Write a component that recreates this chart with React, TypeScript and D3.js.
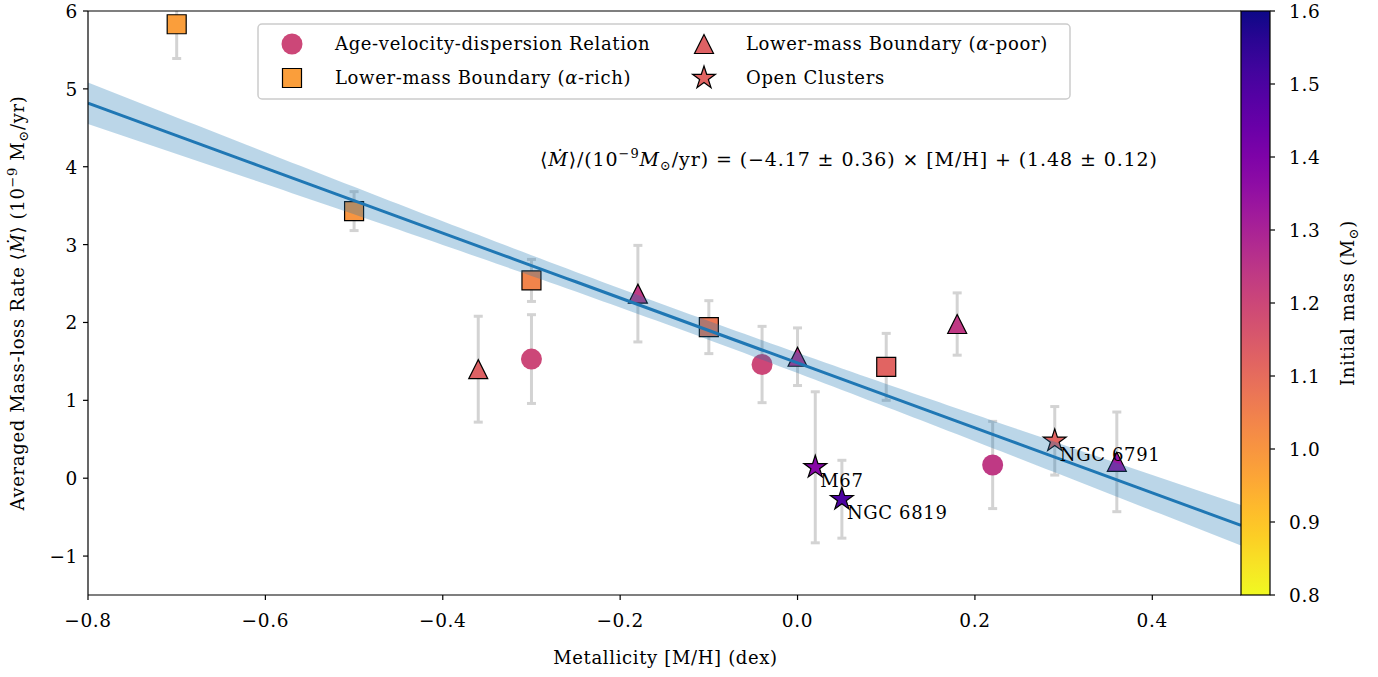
import React from 'react';
import * as d3 from 'd3';

const W = 1378, H = 677;
const PL = 88, PR = 1241, PT = 11, PB = 595;
const CBL = 1241, CBR = 1270;

const xTicks = [-0.8, -0.6, -0.4, -0.2, 0.0, 0.2, 0.4];
const yTicks = [-1, 0, 1, 2, 3, 4, 5, 6];
const cbTicks = [0.8, 0.9, 1.0, 1.1, 1.2, 1.3, 1.4, 1.5, 1.6];

// Age-velocity-dispersion relation
const avdMH = [-0.30, -0.04, 0.22];
const avdRate = [1.53, 1.46, 0.17];
const avdErr = [0.57, 0.49, 0.56];
const avdMass = [1.20, 1.20, 1.24];

// Lower-mass boundary (alpha-rich)
const richMH = [-0.70, -0.50, -0.30, -0.10, 0.10];
const richRate = [5.83, 3.43, 2.54, 1.94, 1.43];
const richErr = [0.44, 0.25, 0.27, 0.34, 0.43];
const richMass = [0.98, 1.00, 1.04, 1.07, 1.12];

// Lower-mass boundary (alpha-poor)
const poorMH = [-0.36, -0.18, 0.00, 0.18, 0.36];
const poorRate = [1.40, 2.37, 1.56, 1.98, 0.21];
const poorErr = [0.68, 0.62, 0.37, 0.40, 0.64];
const poorMass = [1.13, 1.24, 1.26, 1.24, 1.34];

// Open clusters
const ocNames = ['NGC 6791', 'M67', 'NGC 6819'];
const ocMH = [0.29, 0.02, 0.05];
const ocRate = [0.48, 0.14, -0.27];
const ocErr = [0.44, 0.97, 0.50];
const ocMass = [1.12, 1.38, 1.50];

// Linear fit
const fitSlope = -4.17;
const fitIntercept = 1.48;
const fitSlopeErr = 0.36;
const fitIntErr = 0.12;
const fitPivot = -0.14;

const FONT = 'DejaVu Serif';
const LS = 0.65;

const x = d3.scaleLinear().domain([-0.8, 0.5]).range([PL, PR]);
const y = d3.scaleLinear().domain([-1.5, 6]).range([PB, PT]);
const cb = d3.scaleLinear().domain([0.8, 1.6]).range([PB, PT]);
const color = (m: number) => d3.interpolatePlasma(1 - (m - 0.8) / 0.8);

const fmt = (v: number, d: number) => (v < 0 ? '\u2212' : '') + Math.abs(v).toFixed(d);

function starPath(r: number) {
  const inner = r * 0.381966;
  const pts: string[] = [];
  for (let i = 0; i < 10; i++) {
    const a = -Math.PI / 2 + (i * Math.PI) / 5;
    const rr = i % 2 ? inner : r;
    pts.push(`${(rr * Math.cos(a)).toFixed(2)},${(rr * Math.sin(a)).toFixed(2)}`);
  }
  return 'M' + pts.join('L') + 'Z';
}
const triPath = (r: number) => `M0,${-r}L${-r},${r}L${r},${r}Z`;
const sqPath = (s: number) => `M${-s / 2},${-s / 2}h${s}v${s}h${-s}Z`;

type Shape = 'circle' | 'square' | 'tri' | 'star';
function Marker({ shape, cx, cy, fill }: { shape: Shape; cx: number; cy: number; fill: string }) {
  if (shape === 'circle') return <circle cx={cx} cy={cy} r={10.5} fill={fill} />;
  const d = shape === 'square' ? sqPath(19) : shape === 'tri' ? triPath(9.5) : starPath(12);
  return <path d={d} transform={`translate(${cx},${cy})`} fill={fill} stroke="#000" strokeWidth={1.2} strokeLinejoin="miter" />;
}

function ErrBar({ mh, v, e }: { mh: number; v: number; e: number }) {
  const px = x(mh);
  const y0 = y(v - e), y1 = y(v + e);
  return (
    <g stroke="#d3d3d3" strokeWidth={3}>
      <line x1={px} x2={px} y1={y0} y2={y1} />
      <line x1={px - 4.5} x2={px + 4.5} y1={y0} y2={y0} />
      <line x1={px - 4.5} x2={px + 4.5} y1={y1} y2={y1} />
    </g>
  );
}

const series: { shape: Shape; mh: number[]; v: number[]; e: number[]; m: number[]; label: string }[] = [
  { shape: 'circle', mh: avdMH, v: avdRate, e: avdErr, m: avdMass, label: 'avd' },
  { shape: 'square', mh: richMH, v: richRate, e: richErr, m: richMass, label: 'rich' },
  { shape: 'tri', mh: poorMH, v: poorRate, e: poorErr, m: poorMass, label: 'poor' },
  { shape: 'star', mh: ocMH, v: ocRate, e: ocErr, m: ocMass, label: 'oc' },
];

export default function App() {
  const fx = d3.range(-0.8, 0.5001, 0.01);
  const hw = (xv: number) => Math.sqrt(fitIntErr ** 2 + (xv - fitPivot) ** 2 * fitSlopeErr ** 2);
  const band = d3
    .area<number>()
    .x((d) => x(d))
    .y0((d) => y(fitSlope * d + fitIntercept - hw(d)))
    .y1((d) => y(fitSlope * d + fitIntercept + hw(d)))(fx);
  const line = d3
    .line<number>()
    .x((d) => x(d))
    .y((d) => y(fitSlope * d + fitIntercept))(fx);

  const gradStops = d3.range(0, 1.0001, 0.05);

  return (
    <svg width={W} height={H} style={{ position: 'absolute', left: 0, top: 0 }} fontFamily={FONT} letterSpacing={LS}>
      <defs>
        <clipPath id="plot">
          <rect x={PL} y={PT} width={PR - PL} height={PB - PT} />
        </clipPath>
        <linearGradient id="cbgrad" x1="0" y1="1" x2="0" y2="0">
          {gradStops.map((t) => (
            <stop key={t} offset={t} stopColor={d3.interpolatePlasma(1 - t)} />
          ))}
        </linearGradient>
      </defs>
      <rect x={0} y={0} width={W} height={H} fill="#fff" />

      <g clipPath="url(#plot)">
        {series.map((s) => s.mh.map((mh, i) => <ErrBar key={s.label + i} mh={mh} v={s.v[i]} e={s.e[i]} />))}
        {series.map((s) =>
          s.mh.map((mh, i) => <Marker key={s.label + 'm' + i} shape={s.shape} cx={x(mh)} cy={y(s.v[i])} fill={color(s.m[i])} />)
        )}
        <path d={band || ''} fill="#1f77b4" fillOpacity={0.3} />
        <path d={line || ''} fill="none" stroke="#1f77b4" strokeWidth={3} />
      </g>

      {ocNames.map((n, i) => (
        <text key={n} x={x(ocMH[i]) + 5} y={y(ocRate[i]) + 20} fontSize={18} fill="#000">
          {n}
        </text>
      ))}

      {/* axes */}
      <line x1={PL} x2={PL} y1={PT} y2={PB} stroke="#000" strokeWidth={1.2} />
      <line x1={PL} x2={PR} y1={PB} y2={PB} stroke="#000" strokeWidth={1.2} />
      <line x1={PL} x2={PR} y1={PT} y2={PT} stroke="#000" strokeWidth={1.2} />
      {xTicks.map((t) => (
        <g key={t}>
          <line x1={x(t)} x2={x(t)} y1={PB} y2={PB + 5} stroke="#000" strokeWidth={1.2} />
          <text x={x(t)} y={PB + 32} fontSize={18.5} textAnchor="middle">
            {fmt(t, 1)}
          </text>
        </g>
      ))}
      {yTicks.map((t) => (
        <g key={t}>
          <line x1={PL - 5} x2={PL} y1={y(t)} y2={y(t)} stroke="#000" strokeWidth={1.2} />
          <text x={PL - 10} y={y(t) + 7} fontSize={18.5} textAnchor="end">
            {fmt(t, 0)}
          </text>
        </g>
      ))}
      <text x={(PL + PR) / 2 + 1} y={664} fontSize={18} textAnchor="middle">
        Metallicity [M/H] (dex)
      </text>
      <text transform={`translate(24,${(PT + PB) / 2}) rotate(-90)`} fontSize={18} textAnchor="middle">
        Averaged Mass-loss Rate ⟨<tspan fontStyle="italic">Ṁ</tspan>⟩ (10
        <tspan dy={-7} fontSize={13}>−9</tspan>
        <tspan dy={7}> M</tspan>
        <tspan dy={4} fontSize={13}>⊙</tspan>
        <tspan dy={-4}>/yr)</tspan>
      </text>

      {/* equation */}
      <text x={540} y={166} fontSize={19} letterSpacing={0.9}>
        ⟨<tspan fontStyle="italic">Ṁ</tspan>⟩/(10
        <tspan dy={-8} fontSize={13}>−9</tspan>
        <tspan dy={8} fontStyle="italic">M</tspan>
        <tspan dy={4} fontSize={13}>⊙</tspan>
        <tspan dy={-4}>/yr) = (−4.17 ± 0.36) × [M/H] + (1.48 ± 0.12)</tspan>
      </text>

      {/* legend */}
      <rect x={258} y={24} width={812} height={75} rx={4} fill="#fff" fillOpacity={0.8} stroke="#cccccc" strokeWidth={1.5} />
      <Marker shape="circle" cx={292} cy={44} fill={color(avdMass[0])} />
      <text x={335} y={50} fontSize={18}>Age-velocity-dispersion Relation</text>
      <Marker shape="square" cx={292} cy={78} fill={color(richMass[0])} />
      <text x={335} y={84} fontSize={18}>
        Lower-mass Boundary (<tspan fontStyle="italic">α</tspan>-rich)
      </text>
      <Marker shape="tri" cx={704} cy={44} fill={color(poorMass[0])} />
      <text x={746} y={50} fontSize={18}>
        Lower-mass Boundary (<tspan fontStyle="italic">α</tspan>-poor)
      </text>
      <Marker shape="star" cx={704} cy={78} fill={color(ocMass[0])} />
      <text x={746} y={84} fontSize={18}>Open Clusters</text>

      {/* colorbar */}
      <rect x={CBL} y={PT} width={CBR - CBL} height={PB - PT} fill="url(#cbgrad)" stroke="#000" strokeWidth={1.2} />
      {cbTicks.map((t) => (
        <g key={t}>
          <line x1={CBR} x2={CBR + 5} y1={cb(t)} y2={cb(t)} stroke="#000" strokeWidth={1.2} />
          <text x={CBR + 19} y={cb(t) + 7} fontSize={18.5}>
            {t.toFixed(1)}
          </text>
        </g>
      ))}
      <text transform={`translate(1354,${(PT + PB) / 2}) rotate(-90)`} fontSize={18} textAnchor="middle">
        Initial mass (M<tspan dy={4} fontSize={13}>⊙</tspan>
        <tspan dy={-4}>)</tspan>
      </text>
    </svg>
  );
}
